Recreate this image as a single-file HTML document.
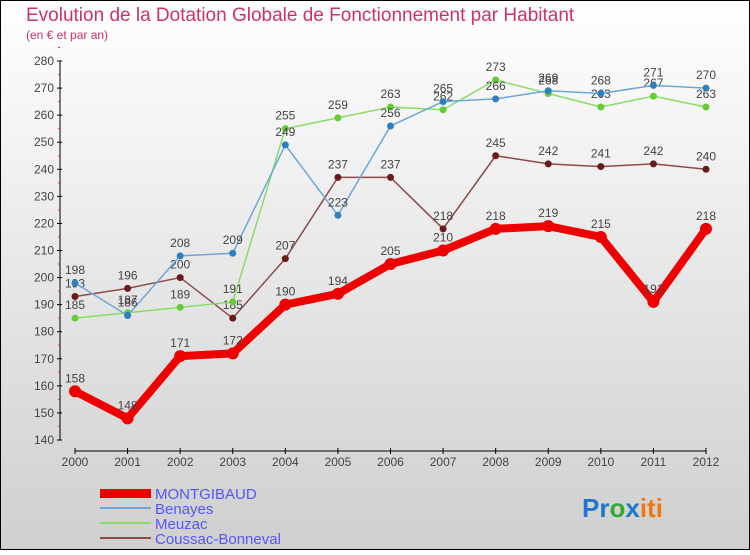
<!DOCTYPE html>
<html><head><meta charset="utf-8"><style>
body{margin:0;width:750px;height:550px;overflow:hidden;font-family:"Liberation Sans",sans-serif}
</style></head><body>
<svg width="750" height="550" xmlns="http://www.w3.org/2000/svg">
<defs><linearGradient id="bg" x1="0" y1="0" x2="0" y2="1"><stop offset="0" stop-color="#ffffff"/><stop offset="1" stop-color="#cfcfcf"/></linearGradient></defs>
<rect x="0.5" y="0.5" width="749" height="549" fill="url(#bg)" stroke="#000"/>
<text x="26" y="21" font-size="19" fill="#cc3366">Evolution de la Dotation Globale de Fonctionnement par Habitant</text>
<text x="26" y="39" font-size="12" fill="#cc3366">(en € et par an)</text>
<g id="axes"></g><g id="series"></g>
<g>
<rect x="100" y="489" width="51" height="9" fill="#ee0000"/>
<text x="155" y="499" font-size="15" fill="#5555ff">MONTGIBAUD</text>
<rect x="100" y="507" width="51" height="2" fill="#6ea6d8"/>
<text x="155" y="514" font-size="15" fill="#5555ff">Benayes</text>
<rect x="100" y="522" width="51" height="2" fill="#88dd66"/>
<text x="155" y="529" font-size="15" fill="#5555ff">Meuzac</text>
<rect x="100" y="537" width="51" height="2" fill="#8b4b4b"/>
<text x="155" y="544" font-size="15" fill="#5555ff">Coussac-Bonneval</text>
</g>
<text x="582" y="517" font-size="26" font-weight="bold"><tspan fill="#2277cc">Pr</tspan><tspan fill="#33aa33">o</tspan><tspan fill="#2277cc">x</tspan><tspan fill="#ee7711">iti</tspan></text>
</svg>
<script>
const years=[2000,2001,2002,2003,2004,2005,2006,2007,2008,2009,2010,2011,2012];
const yTicks=[140,150,160,170,180,190,200,210,220,230,240,250,260,270,280];
const montgibaud=[158,148,171,172,190,194,205,210,218,219,215,191,218];
const benayes=[198,186,208,209,249,223,256,265,266,269,268,271,270];
const meuzac=[185,187,189,191,255,259,263,262,273,268,263,267,263];
const coussac=[193,196,200,185,207,237,237,218,245,242,241,242,240];
const NS="http://www.w3.org/2000/svg";
const xS=i=>75+i*(706-75)/12;
const yS=v=>440-(v-140)*(379/140);
function mk(t,a,p){const e=document.createElementNS(NS,t);for(const k in a)e.setAttribute(k,a[k]);p.appendChild(e);return e;}
const ax=document.getElementById('axes');
let l=mk('line',{x1:60,y1:yS(280),x2:60,y2:yS(140),stroke:'#000'},ax);


l=mk('line',{x1:75,y1:451,x2:706,y2:451,stroke:'#000'},ax);


yTicks.forEach(v=>{
 mk('line',{x1:57,y1:yS(v),x2:62,y2:yS(v),stroke:'#000'},ax);
 mk('line',{x1:58,y1:yS(v+5),x2:60,y2:yS(v+5),stroke:'#e33'},ax);
 const t=mk('text',{x:54,y:yS(v)+4,'font-size':12,'text-anchor':'end',fill:'#444'},ax);t.textContent=v;
 
 
});
years.forEach((y,i)=>{
 mk('line',{x1:xS(i),y1:448,x2:xS(i),y2:454,stroke:'#000'},ax);
 const t=mk('text',{x:xS(i),y:466,'font-size':12,'text-anchor':'middle',fill:'#444'},ax);t.textContent=y;
 
 
});
const sg=document.getElementById('series');
function series(d,col,w,r,name,dot){
 const g=mk('g',{},sg);
 
 
 const p=mk('polyline',{points:d.map((v,i)=>xS(i)+','+yS(v)).join(' '),fill:'none',stroke:col,'stroke-width':w,'stroke-linejoin':'round'},g);
 
 
 d.forEach((v,i)=>{
  const c=mk('circle',{cx:xS(i),cy:yS(v),r:r,fill:dot},g);
  
  
  const t=mk('text',{x:xS(i),y:yS(v)-9,'font-size':12,'text-anchor':'middle',fill:'#444'},g);t.textContent=v;
  
  
 });
}
series(coussac,'#8b4b4b',1.5,3.5,'coussac','#6b1a1a');
series(meuzac,'#88dd66',1.5,3.5,'meuzac','#66cc33');
series(benayes,'#6ea6d8',1.5,3.5,'benayes','#2f7fc0');
series(montgibaud,'#ee0000',8,6,'montgibaud','#ee0000');
</script>
</body></html>
